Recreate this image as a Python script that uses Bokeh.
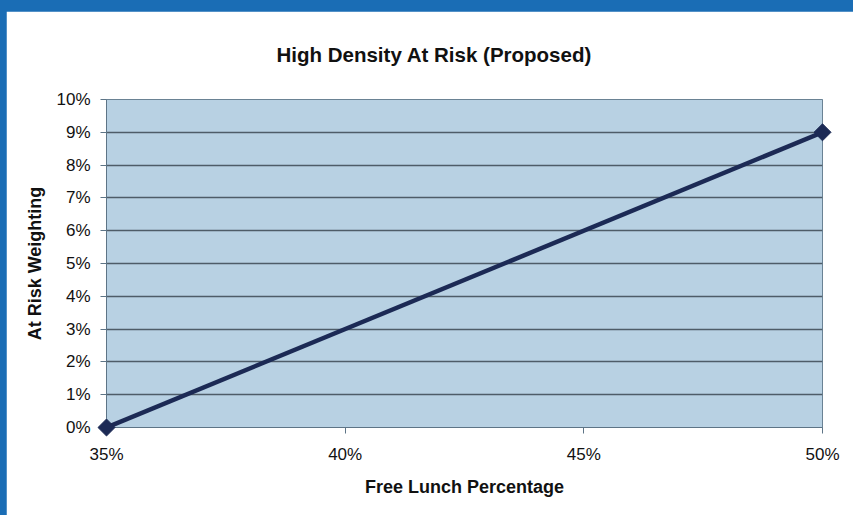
from bokeh.plotting import figure
from bokeh.models import FixedTicker, NumeralTickFormatter, Range1d, Title
from bokeh.embed import file_html
from bokeh.resources import INLINE
import math

# Data
free_lunch = [0.35, 0.50]
at_risk = [0.0, 0.09]
x_ticks = [0.35, 0.40, 0.45, 0.50]
y_ticks = [0.00, 0.01, 0.02, 0.03, 0.04, 0.05, 0.06, 0.07, 0.08, 0.09, 0.10]
title_text = "High Density At Risk (Proposed)"

FONT = "Liberation Sans"

p = figure(width=847, height=504, output_backend="svg", toolbar_location=None,
           x_range=Range1d(0.35, 0.50), y_range=Range1d(0.0, 0.10),
           min_border_left=100, min_border_right=31, min_border_top=88, min_border_bottom=88)
p.margin = (11, 0, 0, 6)
p.title = None
p.add_layout(Title(text=title_text, align="left", offset=170, vertical_align="top",
                   text_font=FONT, text_font_size="20.5px", text_font_style="bold",
                   text_color="#111111", standoff=63), "above")

p.background_fill_color = "#b8d1e3"
p.border_fill_color = "white"
p.outline_line_color = "#6a8294"
p.outline_line_width = 1

p.xgrid.visible = False
p.ygrid.grid_line_color = "#4e5c68"
p.ygrid.grid_line_width = 1.5
p.ygrid.ticker = FixedTicker(ticks=y_ticks)

for ax in (p.xaxis[0], p.yaxis[0]):
    ax.major_label_text_font = FONT
    ax.major_label_text_font_size = "17px"
    ax.major_label_text_color = "#111111"
    ax.axis_label_text_font = FONT
    ax.axis_label_text_font_size = "18px"
    ax.axis_label_text_font_style = "bold"
    ax.axis_label_text_color = "#111111"
    ax.axis_line_color = "#5d7486"
    ax.major_tick_line_color = "#5d7486"
    ax.major_tick_in = 0
    ax.major_tick_out = 6
    ax.minor_tick_line_color = None
    ax.formatter = NumeralTickFormatter(format="0%")

p.xaxis[0].ticker = FixedTicker(ticks=x_ticks)
p.yaxis[0].ticker = FixedTicker(ticks=y_ticks)
p.xaxis[0].axis_label = "Free Lunch Percentage"
p.yaxis[0].axis_label = "At Risk Weighting"
p.xaxis[0].major_label_standoff = 11
p.xaxis[0].axis_label_standoff = 10
p.yaxis[0].major_label_standoff = 10
p.yaxis[0].axis_label_standoff = 8

p.line(free_lunch, at_risk, line_color="#1c2a55", line_width=4.5)
r = p.scatter(free_lunch, at_risk, marker="square", size=12, angle=math.pi / 4,
              fill_color="#1c2a55", line_color="#1c2a55")
r.level = "overlay"

html = file_html(p, INLINE)
html = html + "\n<style>html, body { background: #1a6db5; }</style>\n"
open("out.html", "w").write(html)
